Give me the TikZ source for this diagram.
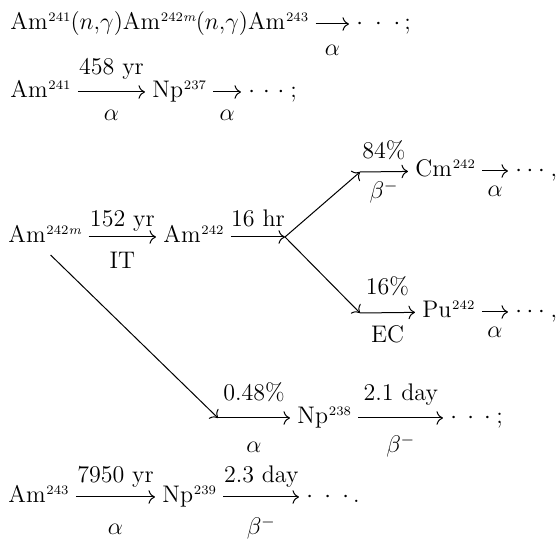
\documentclass[tikz,border=0pt]{standalone}
\usetikzlibrary{arrows.meta}
\newcommand{\mydots}[1]{{\cdot}\mkern#1mu{\cdot}\mkern#1mu{\cdot}}
\newcommand{\iso}[1]{\kern0.4pt\raisebox{4pt}{\fontsize{6.5}{7}\selectfont #1}}
\begin{document}
\begin{tikzpicture}[x=0.5pt,y=-0.5pt,
  font=\fontsize{12}{14}\selectfont,
  nuc/.style={inner xsep=3.5pt, inner ysep=0pt, text height=9pt, text depth=3pt, anchor=base west},
  ar/.style={-{To[scale=1.2]}, line width=0.5pt},
  lab/.style={anchor=base, inner sep=0pt, midway}]
\useasboundingbox (0,0) rectangle (559,545);

% Row 1
\node[nuc] (r1) at (3,30) {Am\iso{241}$(n{,}\gamma)$Am\iso{242\textit{m}}$(n{,}\gamma)$Am\iso{243}};
\node[nuc] (d1) at (349,30) {$\mydots{9}\mkern3mu;$};
\draw[ar] (r1) -- (d1) node[lab, yshift=-16pt] {$\alpha$};

% Row 2
\node[nuc] (a241) at (3,98) {Am\iso{241}};
\node[nuc] (np237) at (145,98) {Np\iso{237}};
\node[nuc] (d2) at (241,98) {$\mydots{6}\mkern4.5mu;$};
\draw[ar] (a241) -- (np237) node[lab, yshift=8.5pt] {458 yr} node[lab, yshift=-14.5pt] {$\alpha$};
\draw[ar] (np237) -- (d2) node[lab, yshift=-14.5pt] {$\alpha$};

% Row 3
\node[nuc] (am242m) at (1,243) {Am\iso{242\textit{m}}};
\node[nuc] (am242) at (156,243) {Am\iso{242}};
\coordinate (br) at (285,237);
\draw[ar] (am242m) -- (am242) node[lab, yshift=5pt] {152 yr} node[lab, yshift=-16pt] {IT};
\draw[ar] (am242) -- (br) node[lab, yshift=5pt] {16 hr};

% upper branch
\coordinate (up) at (360,172);
\node[nuc] (cm242) at (408,177) {Cm\iso{242}};
\node[nuc] (d3) at (508,177) {$\mydots{3.5}\mkern4.5mu,$};
\draw[ar] (br) -- (up);
\draw[ar] (up) -- (cm242) node[lab, yshift=6.5pt] {84\%} node[lab, yshift=-13.5pt] {$\beta^-$};
\draw[ar] (cm242) -- (d3) node[lab, yshift=-13pt] {$\alpha$};

% lower branch
\coordinate (dn) at (360,313);
\node[nuc] (pu242) at (415,318) {Pu\iso{242}};
\node[nuc] (d4) at (508,318) {$\mydots{3.5}\mkern4.5mu,$};
\draw[ar] (br) -- (dn);
\draw[ar] (dn) -- (pu242) node[lab, yshift=9pt] {16\%} node[lab, yshift=-15pt] {EC};
\draw[ar] (pu242) -- (d4) node[lab, yshift=-13pt] {$\alpha$};

% Row 4
\coordinate (lo) at (218,418);
\node[nuc] (np238) at (290,424) {Np\iso{238}};
\node[nuc] (d5) at (443,424) {$\mydots{7.7}\mkern4mu;$};
\draw[ar, shorten <=4pt] (am242m.south) -- (lo);
\draw[ar] (lo) -- (np238) node[lab, yshift=8.5pt] {0.48\%} node[lab, yshift=-17.5pt] {$\alpha$};
\draw[ar] (np238) -- (d5) node[lab, yshift=8.5pt] {2.1 day} node[lab, yshift=-17.5pt] {$\beta^-$};

% Row 5
\node[nuc] (am243) at (1,503) {Am\iso{243}};
\node[nuc] (np239) at (155,503) {Np\iso{239}};
\node[nuc] (d6) at (299,503) {$\mydots{8.5}\mkern3mu.$};
\draw[ar] (am243) -- (np239) node[lab, yshift=7pt] {7950 yr} node[lab, yshift=-19pt] {$\alpha$};
\draw[ar] (np239) -- (d6) node[lab, yshift=7pt] {2.3 day} node[lab, yshift=-19pt] {$\beta^-$};
\end{tikzpicture}
\end{document}
